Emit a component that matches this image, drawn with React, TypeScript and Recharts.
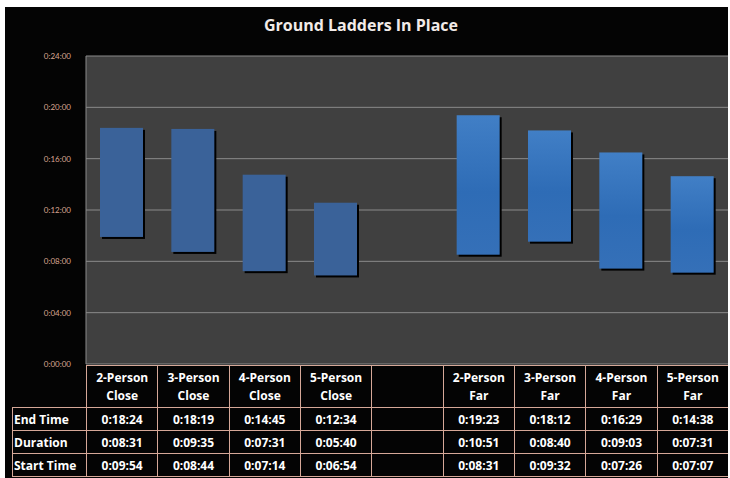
import React from "react";
import { Bar, BarChart, CartesianGrid, XAxis, YAxis } from "recharts";

const groups = ["Close", "Close", "Close", "Close", "", "Far", "Far", "Far", "Far"];
const crews = ["2-Person", "3-Person", "4-Person", "5-Person", "", "2-Person", "3-Person", "4-Person", "5-Person"];
const endTimes = ["0:18:24", "0:18:19", "0:14:45", "0:12:34", "", "0:19:23", "0:18:12", "0:16:29", "0:14:38"];
const durations = ["0:08:31", "0:09:35", "0:07:31", "0:05:40", "", "0:10:51", "0:08:40", "0:09:03", "0:07:31"];
const startTimes = ["0:09:54", "0:08:44", "0:07:14", "0:06:54", "", "0:08:31", "0:09:32", "0:07:26", "0:07:07"];
const yTicks = [0, 240, 480, 720, 960, 1200, 1440];

const toSec = (t: string) => {
  const [h, m, s] = t.split(":").map(Number);
  return h * 3600 + m * 60 + s;
};
const fmt = (v: number) => {
  const m = Math.floor(v / 60);
  const s = v % 60;
  return `0:${String(m).padStart(2, "0")}:${String(s).padStart(2, "0")}`;
};

const data = crews.map((c, i) => ({
  name: c ? `${c} ${groups[i]}` : " ",
  group: groups[i],
  range: c ? [toSec(startTimes[i]), toSec(endTimes[i])] : null,
}));

const FONT = "'Open Sans', Lato, sans-serif";
const BORDER = "#d6a898";

function RangeShape(props: any) {
  const { x, y, width, height, payload } = props;
  if (!height) return null;
  const fill = payload.group === "Far" ? "url(#farGrad)" : "#3a6299";
  return (
    <g>
      <rect x={x + 2} y={y + 2} width={width} height={height} fill="#000" />
      <rect x={x} y={y} width={width} height={height} fill={fill} />
    </g>
  );
}

const cell: React.CSSProperties = {
  border: `1px solid ${BORDER}`,
  color: "#fff",
  fontWeight: 700,
  fontSize: 12,
  textAlign: "center",
  padding: 0,
  height: 22,
  background: "#040404",
};

export default function App() {
  const rows: [string, string[]][] = [
    ["End Time", endTimes],
    ["Duration", durations],
    ["Start Time", startTimes],
  ];
  return (
    <div style={{ position: "absolute", left: 0, top: 0, width: 730, height: 478, background: "#fff", fontFamily: FONT }}>
      <div style={{ position: "absolute", left: 5, top: 7, width: 723, height: 471, background: "#040404", overflow: "hidden" }}>
        <div style={{ position: "absolute", top: 7, width: 712, textAlign: "center", color: "#f2ebe8", fontWeight: 700, fontSize: 16 }}>
          Ground Ladders In Place
        </div>
        <BarChart width={723} height={372} data={data} margin={{ top: 49, right: 0, bottom: 15, left: 0 }} barCategoryGap={0}>
          <defs>
            <linearGradient id="farGrad" x1="0" y1="0" x2="0" y2="1">
              <stop offset="0%" stopColor="#417fc6" />
              <stop offset="55%" stopColor="#2e6cb6" />
              <stop offset="100%" stopColor="#3570b8" />
            </linearGradient>
          </defs>
          <CartesianGrid vertical={false} stroke="#8a8a8a" fill="#404040" fillOpacity={1} />
          <XAxis dataKey="name" hide />
          <YAxis
            width={81}
            domain={[0, 1440]}
            ticks={yTicks}
            tickFormatter={fmt}
            axisLine={{ stroke: "#8a8a8a" }}
            tickLine={false}
            tick={{ fill: "#d9a591", fontSize: 8, fontFamily: "Lato, sans-serif" }}
            tickMargin={9}
          />
          <Bar dataKey="range" barSize={43} shape={RangeShape} isAnimationActive={false} />
        </BarChart>
        <table
          style={{
            position: "absolute",
            left: 7,
            top: 358,
            borderCollapse: "collapse",
            tableLayout: "fixed",
            width: 716,
            fontFamily: FONT,
          }}
        >
          <colgroup>
            <col style={{ width: 74 }} />
            {crews.map((_, i) => (
              <col key={i} style={{ width: 71.33 }} />
            ))}
          </colgroup>
          <tbody>
            <tr>
              <td style={{ ...cell, border: "none", borderRight: `1px solid ${BORDER}`, height: 41, background: "transparent" }} />
              {crews.map((c, i) => (
                <td key={i} style={{ ...cell, height: 41, lineHeight: "18px" }}>
                  {c}
                  {c && <br />}
                  {groups[i]}
                </td>
              ))}
            </tr>
            {rows.map(([label, vals]) => (
              <tr key={label}>
                <td style={{ ...cell, textAlign: "left", paddingLeft: 1 }}>{label}</td>
                {vals.map((v, i) => (
                  <td key={i} style={cell}>
                    {v}
                  </td>
                ))}
              </tr>
            ))}
          </tbody>
        </table>
      </div>
    </div>
  );
}
